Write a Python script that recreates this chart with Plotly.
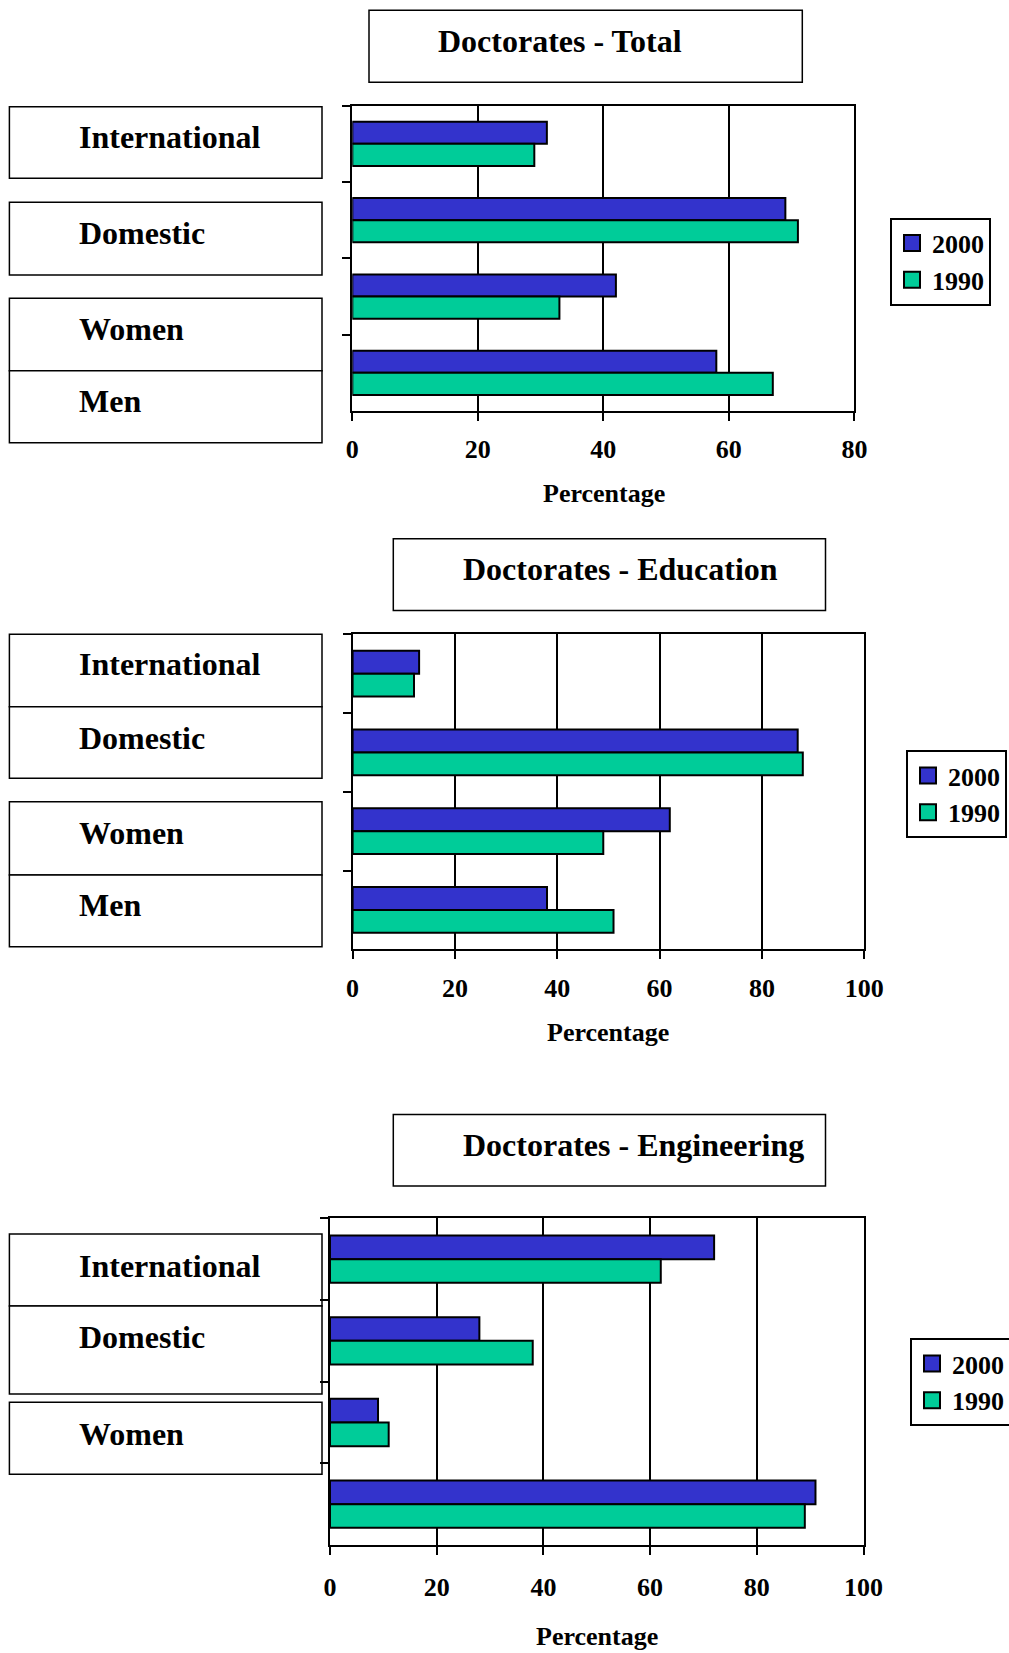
import plotly.graph_objects as go

# ---------------- data ----------------
categories = ["International", "Domestic", "Women", "Men"]
years = ["2000", "1990"]

total_2000 = [31, 69, 42, 58]
total_1990 = [29, 71, 33, 67]

education_2000 = [13, 87, 62, 38]
education_1990 = [12, 88, 49, 51]

engineering_2000 = [72, 28, 9, 91]
engineering_1990 = [62, 38, 11, 89]

chart_titles = ["Doctorates - Total", "Doctorates - Education", "Doctorates - Engineering"]
axis_title = "Percentage"
x_ranges = [80, 100, 100]

# label boxes shown left of each chart (text, top px, bottom px, text centre px)
labels_1 = [("International", 106.7, 178.3, 137.5), ("Domestic", 202.3, 275.0, 232.5),
            ("Women", 298.3, 370.7, 329.0), ("Men", 370.7, 442.7, 400.8)]
labels_2 = [("International", 634.3, 706.7, 664.2), ("Domestic", 706.7, 778.3, 737.5),
            ("Women", 801.7, 875.0, 833.3), ("Men", 875.0, 946.7, 905.0)]
labels_3 = [("International", 1234.0, 1306.0, 1265.8), ("Domestic", 1306.0, 1394.0, 1337.0),
            ("Women", 1402.3, 1474.3, 1433.5)]

# ---------------- layout helpers ----------------
W, H = 1009, 1653
def px(x):
    return x / W
def py(y):
    return 1 - y / H

BLUE = "#3333CC"
GREEN = "#00CC99"
FONT = "Liberation Serif"

# plot areas (left, right, top, bottom) in px
areas = [(352.3, 854.4, 105.7, 411.0),
         (352.6, 864.2, 634.3, 949.3),
         (330.0, 863.5, 1218.3, 1545.0)]
# title boxes (x0, x1, y0, y1, text_left, text_centre_y)
title_boxes = [(369.0, 802.3, 10.3, 82.3, 435.8, 41.0),
               (393.3, 825.5, 538.7, 610.4, 460.8, 569.4),
               (393.3, 825.5, 1114.4, 1186.0, 460.8, 1145.0)]
# axis title centres (x, y)
axis_title_pos = [(604.0, 493.3), (608.3, 1032.8), (596.8, 1636.0)]
tick_standoff = [6, 6, 10]
# legends (left, top)
legend_pos = [(890.0, 217.5), (906.0, 750.0), (910.0, 1338.0)]

box_left, box_right, label_x = 9.4, 322.0, 76.5

series = [(total_2000, total_1990), (education_2000, education_1990),
          (engineering_2000, engineering_1990)]
label_sets = [labels_1, labels_2, labels_3]

fig = go.Figure()
layout = dict(
    width=W, height=H,
    margin=dict(l=0, r=0, t=0, b=0, pad=0, autoexpand=False),
    paper_bgcolor="white", plot_bgcolor="white",
    barmode="group", bargap=0.42, bargroupgap=0,
    showlegend=True,
    shapes=[], annotations=[],
)

for i, ((v2000, v1990), (l, r, t, b), rng) in enumerate(zip(series, areas, x_ranges)):
    n = "" if i == 0 else str(i + 1)
    leg = "legend" + n
    for name, vals, col in ((years[0], v2000, BLUE), (years[1], v1990, GREEN)):
        fig.add_trace(go.Bar(
            x=vals, y=categories, orientation="h", name=name,
            marker=dict(color=col, line=dict(color="black", width=2)),
            xaxis="x" + n, yaxis="y" + n, legend=leg, showlegend=False,
            legendgroup=name + n, hoverinfo="x+name",
        ))
    # legend entries (square swatches like the original legend keys)
    for name, col in ((years[0], BLUE), (years[1], GREEN)):
        fig.add_trace(go.Scatter(
            x=[None], y=[None], mode="markers", name=name,
            marker=dict(symbol="square", size=16, color=col, line=dict(color="black", width=2)),
            xaxis="x" + n, yaxis="y" + n, legend=leg, legendgroup=name + n,
            showlegend=True, hoverinfo="skip",
        ))
    layout["xaxis" + n] = dict(
        domain=[px(l), px(r)], anchor="y" + n, range=[0, rng], dtick=20, tick0=0,
        showgrid=True, gridcolor="black", gridwidth=1.7, zeroline=False,
        showline=True, linecolor="black", linewidth=2, mirror=True,
        ticks="outside", ticklen=8, tickwidth=2, tickcolor="black",
        ticklabelstandoff=tick_standoff[i], automargin=False,
        tickfont=dict(family=FONT, size=26, color="black", weight="bold"),
        fixedrange=True,
    )
    layout["yaxis" + n] = dict(
        domain=[py(b), py(t)], anchor="x" + n, type="category",
        categoryorder="array", categoryarray=categories,
        range=[len(categories) - 0.5, -0.5],
        showgrid=False, zeroline=False, showticklabels=False,
        showline=True, linecolor="black", linewidth=2, mirror=True,
        ticks="outside", ticklen=8, tickwidth=2, tickcolor="black",
        tickson="boundaries", fixedrange=True, automargin=False,
    )
    lx, ly = legend_pos[i]
    layout[leg] = dict(
        x=px(lx), y=py(ly), xanchor="left", yanchor="top",
        bgcolor="white", bordercolor="black", borderwidth=2,
        font=dict(family=FONT, size=26, color="black", weight="bold"),
        traceorder="normal", orientation="v", tracegroupgap=0,
    )

    # title box
    x0, x1, y0, y1, tx, ty = title_boxes[i]
    layout["shapes"].append(dict(type="rect", xref="paper", yref="paper",
                                 x0=px(x0), x1=px(x1), y0=py(y1), y1=py(y0),
                                 line=dict(color="black", width=1.5), fillcolor="white", layer="below"))
    layout["annotations"].append(dict(text=chart_titles[i], xref="paper", yref="paper",
                                      x=px(tx), y=py(ty), xanchor="left", yanchor="middle",
                                      showarrow=False,
                                      font=dict(family=FONT, size=32, color="black", weight="bold")))
    # axis title
    ax_x, ax_y = axis_title_pos[i]
    layout["annotations"].append(dict(text=axis_title, xref="paper", yref="paper",
                                      x=px(ax_x), y=py(ax_y), xanchor="center", yanchor="middle",
                                      showarrow=False,
                                      font=dict(family=FONT, size=26, color="black", weight="bold")))
    # category label boxes
    for text, top, bot, cy in label_sets[i]:
        layout["shapes"].append(dict(type="rect", xref="paper", yref="paper",
                                     x0=px(box_left), x1=px(box_right), y0=py(bot), y1=py(top),
                                     line=dict(color="black", width=1.5), fillcolor="white", layer="below"))
        layout["annotations"].append(dict(text=text, xref="paper", yref="paper",
                                          x=px(label_x), y=py(cy), xanchor="left", yanchor="middle",
                                          showarrow=False,
                                          font=dict(family=FONT, size=32, color="black", weight="bold")))

fig.update_layout(**layout)
fig.write_html("out.html")
